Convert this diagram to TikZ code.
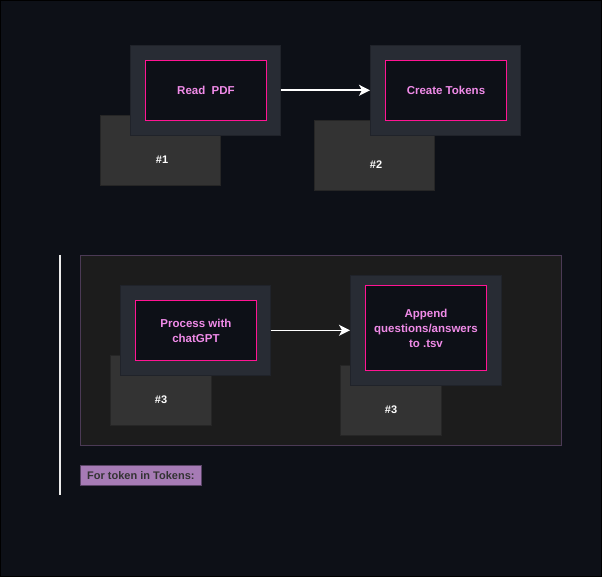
\documentclass[tikz,border=0pt]{standalone}
\usepackage{fontspec}
\setmainfont{Liberation Sans}
\usetikzlibrary{arrows.meta}
\definecolor{bg}{HTML}{0D1017}
\definecolor{outerbox}{HTML}{282C34}
\definecolor{pinkline}{HTML}{FF1493}
\definecolor{pinktext}{HTML}{F08BE8}
\definecolor{labelbox}{HTML}{333333}
\definecolor{labelline}{HTML}{262626}
\definecolor{groupfill}{HTML}{1C1C1C}
\definecolor{groupline}{HTML}{4B3A55}
\definecolor{tokfill}{HTML}{A67BB5}
\definecolor{tokline}{HTML}{5A4466}
\tikzset{
  x=1pt, y=-1pt,
  shellbox/.style={draw=outerbox!80!black, line width=0.6pt, fill=outerbox, anchor=north west, inner sep=0pt},
  corebox/.style={draw=pinkline, line width=0.9pt, fill=bg, anchor=north west, inner sep=0pt, align=center,
     text=pinktext, font=\fontsize{11.5}{15}\selectfont\bfseries},
  tagbox/.style={draw=labelline, line width=0.6pt, fill=labelbox, anchor=north west, inner sep=0pt},
  tagtext/.style={text=white, font=\fontsize{11}{13}\selectfont\bfseries},
  flow/.style={draw=white, line width=1.6pt, -{Stealth[length=11pt,width=11pt,inset=3pt]}},
}
\begin{document}
\begin{tikzpicture}
\useasboundingbox (0,0) rectangle (602,577);
\fill[bg] (0,0) rectangle (602,577);
\draw[black, line width=1pt] (0.5,0.5) rectangle (601.5,576.5);

% loop group
\node[draw=groupline, fill=groupfill, line width=0.7pt, anchor=north west, inner sep=0pt,
      minimum width=481pt, minimum height=190pt] (grp) at (80,255) {};
\coordinate (vtop) at (60,255);
\coordinate (vbot) at (60,495);
\draw[white!85!gray, line width=1.6pt] (vtop) -- (vbot);
\node[draw=tokline, fill=tokfill, line width=0.7pt, anchor=north west, inner sep=0pt,
      minimum width=121pt, minimum height=20pt, text=labelbox,
      font=\fontsize{11}{13}\selectfont\bfseries] (tok) at (80,465) {For token in Tokens:};

% step 1
\node[tagbox, minimum width=120pt, minimum height=70pt] (t1) at (100,115) {};
\node[tagtext] (t1txt) at (162,160) {\#1};
\node[shellbox, minimum width=150pt, minimum height=90pt] (s1) at (130,45) {};
\node[corebox, minimum width=121pt, minimum height=60pt] (c1) at (145,60) {Read\ \ PDF};

% step 2
\node[tagbox, minimum width=120pt, minimum height=70pt] (t2) at (314,120) {};
\node[tagtext] (t2txt) at (376,165) {\#2};
\node[shellbox, minimum width=150pt, minimum height=90pt] (s2) at (370,45) {};
\node[corebox, minimum width=121pt, minimum height=60pt] (c2) at (385,60) {Create Tokens};

\draw[flow] (s1.east) -- (s2.west);

% step 3
\node[tagbox, minimum width=101pt, minimum height=70pt] (t3) at (110,355) {};
\node[tagtext] (t3txt) at (161,400) {\#3};
\node[shellbox, minimum width=150pt, minimum height=90pt] (s3) at (120,285) {};
\node[corebox, minimum width=121pt, minimum height=60pt] (c3) at (135,300) {Process with\\chatGPT};

% step 4
\node[tagbox, minimum width=101pt, minimum height=70pt] (t4) at (340,365) {};
\node[tagtext] (t4txt) at (391,410) {\#3};
\node[shellbox, minimum width=151pt, minimum height=110pt] (s4) at (350,275) {};
\node[corebox, minimum width=121pt, minimum height=85pt] (c4) at (365,285) {Append\\questions/answers\\to .tsv};

\draw[flow] (s3.east) -- (s4.west);
\end{tikzpicture}
\end{document}
